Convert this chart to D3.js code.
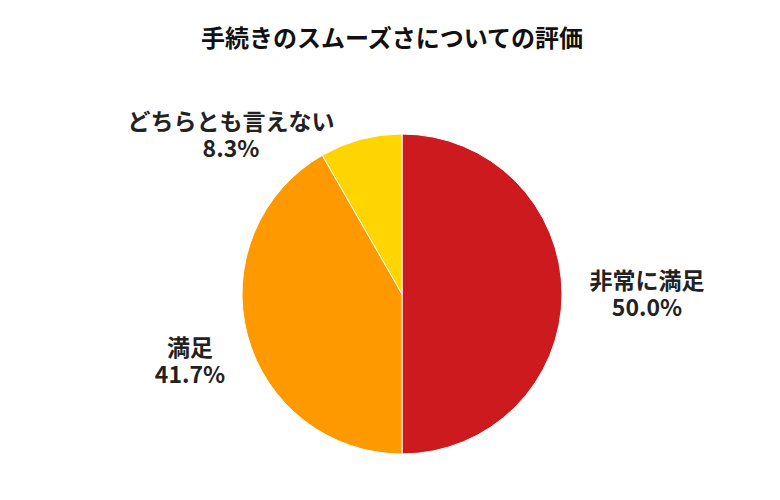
<!DOCTYPE html>
<html><head><meta charset="utf-8">
<script src="https://cdn.jsdelivr.net/npm/d3@7"></script>
<style>body{margin:0;background:#fff}</style></head>
<body><svg id="c" width="780" height="500"></svg>
<script>
const categories=["非常に満足","満足","どちらとも言えない"];
const values=[50.0,41.7,8.3];
const colors=["#CC1A1F","#FF9900","#FFD500"];
const labelPos=[[647,289],[190,356],[231,130]];
const svg=d3.select("#c");
const font="'Noto Sans CJK JP',sans-serif";
svg.append("text").attr("x",392).attr("y",47).attr("text-anchor","middle")
 .attr("font-family",font).attr("font-weight","bold").attr("font-size",24).attr("fill","#111").text("手続きのスムーズさについての評価");
const pie=d3.pie().sort(null).value(d=>d)(values);
const arc=d3.arc().innerRadius(0).outerRadius(160);
const g=svg.append("g").attr("transform","translate(402,294)");
g.selectAll("path").data(pie).join("path").attr("d",arc)
 .attr("fill",(d,i)=>colors[i]).attr("stroke","#fff").attr("stroke-width",1);
categories.forEach((c,i)=>{
 [c,values[i].toFixed(1)+"%"].forEach((s,k)=>{
  svg.append("text").attr("text-anchor","middle").attr("font-family",font)
   .attr("font-weight","bold").attr("font-size",23).attr("fill","#222")
   .attr("x",labelPos[i][0]).attr("y",labelPos[i][1]+k*27).text(s);
 });
});
</script></body></html>
